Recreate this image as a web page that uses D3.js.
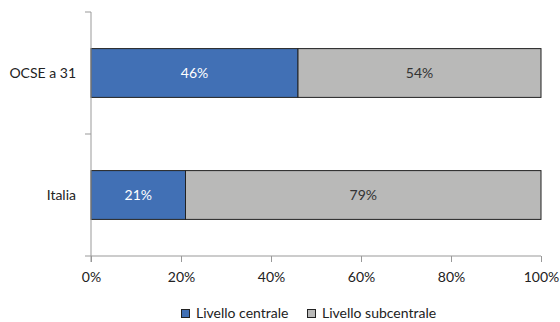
<!DOCTYPE html>
<html><head><meta charset="utf-8">
<script src="https://cdn.jsdelivr.net/npm/d3@7"></script>
<style>body{margin:0;background:#fff}svg{display:block}text{font-family:Lato,"Open Sans",sans-serif}</style>
</head><body><svg id="c" width="560" height="322"></svg>
<script>
const categories = ["OCSE a 31", "Italia"];
const seriesNames = ["Livello centrale", "Livello subcentrale"];
const centrale = [46, 21];
const subcentrale = [54, 79];
const xTicks = [0, 20, 40, 60, 80, 100];
const colors = ["#4170b5", "#b9b9b8"];

const FS = 14;
const svg = d3.select("#c");
const mLeft = 91, mRight = 541, mTop = 12, mBottom = 256;
const x = d3.scaleLinear().domain([0, 100]).range([mLeft, mRight]);
const y = d3.scaleBand().domain(categories).range([mTop, mBottom]).paddingInner(0.6).paddingOuter(0.3);

const data = categories.map((c, i) => ({cat: c, vals: [centrale[i], subcentrale[i]]}));
const g = svg.append("g");
data.forEach(d => {
  let acc = 0;
  d.vals.forEach((v, j) => {
    g.append("rect").attr("x", x(acc)).attr("y", y(d.cat)).attr("width", x(acc + v) - x(acc)).attr("height", y.bandwidth())
      .attr("fill", colors[j]).attr("stroke", "#222").attr("stroke-width", 1);
    g.append("text").attr("x", (x(acc) + x(acc + v)) / 2).attr("y", y(d.cat) + y.bandwidth() / 2).attr("dy", "0.35em")
      .attr("text-anchor", "middle").attr("font-size", FS).attr("fill", j === 0 ? "#fff" : "#333").text(v + "%");
    acc += v;
  });
});

// y axis
svg.append("line").attr("x1", mLeft).attr("x2", mLeft).attr("y1", mTop).attr("y2", mBottom + 6).attr("stroke", "#999");
const yEdges = [mTop, (mTop + mBottom) / 2];
yEdges.forEach(v => svg.append("line").attr("x1", mLeft - 6).attr("x2", mLeft).attr("y1", v).attr("y2", v).attr("stroke", "#999"));
categories.forEach(c => svg.append("text").attr("x", mLeft - 15).attr("y", y(c) + y.bandwidth() / 2).attr("dy", "0.35em")
  .attr("text-anchor", "end").attr("font-size", FS).attr("fill", "#222").text(c));

// x axis
const xa = svg.append("g").attr("transform", `translate(0,${mBottom})`)
  .call(d3.axisBottom(x).tickValues(xTicks).tickFormat(d => d + "%").tickSize(6).tickPadding(10));
xa.select(".domain").attr("stroke", "#999").attr("d", `M${mLeft - 6},0H${mRight}`);
xa.selectAll(".tick line").attr("stroke", "#999");
xa.selectAll("text").attr("font-size", FS).attr("fill", "#222").attr("font-family", 'Lato,sans-serif');

// legend
const lg = svg.append("g");
const items = [{x: 181, name: seriesNames[0], c: colors[0]}, {x: 307, name: seriesNames[1], c: colors[1]}];
items.forEach(it => {
  lg.append("rect").attr("x", it.x + 0.5).attr("y", 309.5).attr("width", 8).attr("height", 8).attr("fill", it.c).attr("stroke", "#222");
  lg.append("text").attr("x", it.x + 15).attr("y", 313).attr("dy", "0.35em").attr("font-size", FS).attr("fill", "#222").text(it.name);
});
</script></body></html>
